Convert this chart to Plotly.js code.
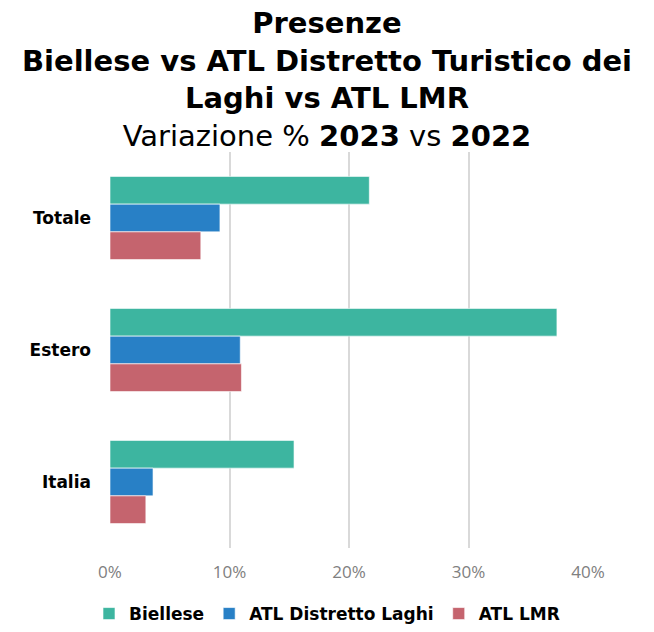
<!DOCTYPE html>
<html>
<head>
<meta charset="utf-8">
<script src="https://cdn.plot.ly/plotly-3.0.1.min.js"></script>
<style>html,body{margin:0;padding:0;background:#fff}#chart{width:654px;height:632px}</style>
</head>
<body>
<div id="chart"></div>
<script>
const categories = ["Totale", "Estero", "Italia"];
const seriesNames = ["Biellese", "ATL Distretto Laghi", "ATL LMR"];
const biellese = [0.217, 0.374, 0.154];
const atlDistrettoLaghi = [0.092, 0.109, 0.036];
const atlLMR = [0.076, 0.110, 0.030];
const xTickValues = [0, 0.1, 0.2, 0.3, 0.4];
const xTickLabels = ["0%", "10%", "20%", "30%", "40%"];

const colors = ["#3db5a0", "#2880c6", "#c5646e"];
const seriesValues = [biellese, atlDistrettoLaghi, atlLMR];

const traces = seriesNames.map((name, i) => ({
  type: "bar",
  orientation: "h",
  name: name,
  y: categories,
  x: seriesValues[i],
  marker: {color: colors[i], line: {color: "rgba(255,255,255,0.6)", width: 1}},
  hoverinfo: "x+y+name"
}));

const layout = {
  width: 654,
  height: 632,
  paper_bgcolor: "#fff",
  plot_bgcolor: "#fff",
  font: {family: "DejaVu Sans, sans-serif", color: "#000"},
  title: {
    text: "<b>Presenze</b><br><b>Biellese vs ATL Distretto Turistico dei</b><br><b>Laghi vs ATL LMR</b><br>Variazione % <b>2023</b> vs <b>2022</b>",
    font: {family: "DejaVu Sans, sans-serif", size: 29, color: "#000"},
    x: 0.5, xanchor: "center",
    y: 0.948, yanchor: "top", yref: "container"
  },
  margin: {l: 110, r: 66, t: 152, b: 84},
  barmode: "group",
  bargap: 0.37,
  bargroupgap: 0,
  xaxis: {
    range: [0, 0.4],
    tickvals: xTickValues,
    ticktext: xTickLabels,
    tickangle: 0,
    showgrid: true,
    gridcolor: "#d9d9d9",
    gridwidth: 2,
    zeroline: false,
    showline: false,
    tickfont: {family: "Open Sans, sans-serif", size: 17, color: "#808080"},
    ticklabelstandoff: 12,
    fixedrange: true
  },
  yaxis: {
    autorange: "reversed",
    showgrid: false,
    zeroline: false,
    showline: false,
    tickfont: {family: "DejaVu Sans, sans-serif", size: 17, color: "#000", weight: "bold"},
    ticklabelstandoff: 18,
    fixedrange: true
  },
  showlegend: true,
  legend: {
    orientation: "h",
    x: 0.5, xanchor: "center", xref: "container",
    y: -0.015, yanchor: "bottom", yref: "container",
    font: {family: "DejaVu Sans, sans-serif", size: 17, color: "#000", weight: "bold"},
    traceorder: "normal"
  }
};

Plotly.newPlot("chart", traces, layout, {displayModeBar: false, staticPlot: true});
</script>
</body>
</html>
